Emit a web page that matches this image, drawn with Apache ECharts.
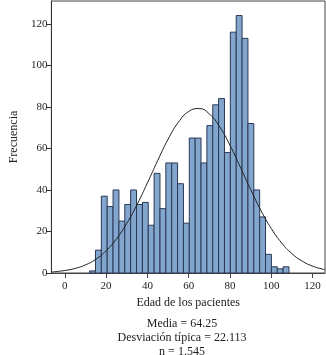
<!DOCTYPE html>
<html>
<head>
<meta charset="utf-8">
<script src="https://cdn.jsdelivr.net/npm/echarts@6/dist/echarts.min.js"></script>
<style>
  html, body { margin: 0; padding: 0; background: #fff; }
  #chart { width: 326px; height: 355px; }
</style>
</head>
<body>
<div id="chart"></div>
<script>
// histogram bins (age), counts
const binStart = 12;
const binWidth = 2.84;
const counts = [1, 11, 37, 32, 40, 25, 33, 40, 33, 34, 23, 48, 31, 53, 53, 43, 24,
  65, 65, 53, 71, 81, 84, 58, 116, 124, 113, 72, 40, 27, 9, 3, 2, 3];

// normal curve overlay, read at every 5 years
const curveAges = [-6.5, -5, 0, 5, 10, 15, 20, 25, 30, 35, 40, 45, 50, 55, 60, 65,
  70, 75, 80, 85, 90, 95, 100, 105, 110, 115, 120, 125, 126];
const curveFreq = [0.5, 0.6, 1.2, 2.2, 3.9, 6.6, 10.7, 16.4, 23.9, 33.0, 43.4, 54.2,
  64.4, 72.6, 77.8, 79.2, 76.6, 70.4, 61.5, 51.0, 40.2, 30.1, 21.4, 14.5, 9.3, 5.7,
  3.3, 1.8, 1.6];

const xTicks = [0, 20, 40, 60, 80, 100, 120];
const yTicks = [0, 20, 40, 60, 80, 100, 120];

const statLines = ['Media = 64.25', 'Desviación típica = 22.113', 'n = 1.545'];

const font = 'Liberation Serif';

const bins = counts.map((c, i) => [binStart + i * binWidth, binStart + (i + 1) * binWidth, c]);
const curve = curveAges.map((a, i) => [a, curveFreq[i]]);

const chart = echarts.init(document.getElementById('chart'), null, { renderer: 'canvas' });

const option = {
  animation: false,
  grid: {
    left: 39, right: 1, top: 1, bottom: 82,
    show: true, borderColor: '#444', borderWidth: 1
  },
  xAxis: {
    type: 'value',
    min: -6.5,
    max: 126,
    name: 'Edad de los pacientes',
    nameLocation: 'middle',
    nameGap: 20,
    nameTextStyle: { fontFamily: font, fontSize: 12, color: '#222' },
    axisLine: { show: true, onZero: false, lineStyle: { color: '#444' } },
    axisTick: { show: true, length: 5, customValues: xTicks, lineStyle: { color: '#444' } },
    axisLabel: { customValues: xTicks, margin: 8, fontFamily: font, fontSize: 11, color: '#222' },
    splitLine: { show: false }
  },
  yAxis: {
    type: 'value',
    min: 0,
    max: 131,
    name: 'Frecuencia',
    nameLocation: 'middle',
    nameGap: 23,
    nameTextStyle: { fontFamily: font, fontSize: 12, color: '#222' },
    axisLine: { show: true, onZero: false, lineStyle: { color: '#333' } },
    axisTick: { show: true, length: 5, customValues: yTicks, lineStyle: { color: '#333' } },
    axisLabel: { customValues: yTicks, margin: 4, fontFamily: font, fontSize: 11, color: '#222' },
    splitLine: { show: false }
  },
  series: [
    {
      type: 'custom',
      data: bins,
      encode: { x: [0, 1], y: 2 },
      renderItem: function (params, api) {
        const topLeft = api.coord([api.value(0), api.value(2)]);
        const bottomRight = api.coord([api.value(1), 0]);
        return {
          type: 'rect',
          shape: {
            x: topLeft[0],
            y: topLeft[1],
            width: bottomRight[0] - topLeft[0],
            height: bottomRight[1] - topLeft[1]
          },
          style: { fill: '#83a6cf', stroke: '#2b3854', lineWidth: 1 }
        };
      },
      z: 2
    },
    {
      type: 'line',
      data: curve,
      smooth: true,
      showSymbol: false,
      lineStyle: { color: '#222', width: 1 },
      z: 3
    }
  ],
  graphic: statLines.map((t, i) => ({
    type: 'text',
    x: 182,
    y: 318 + i * 14,
    style: {
      text: t,
      textAlign: 'center',
      fontFamily: font,
      fontSize: 12,
      fill: '#222'
    }
  }))
};

chart.setOption(option);
</script>
</body>
</html>
